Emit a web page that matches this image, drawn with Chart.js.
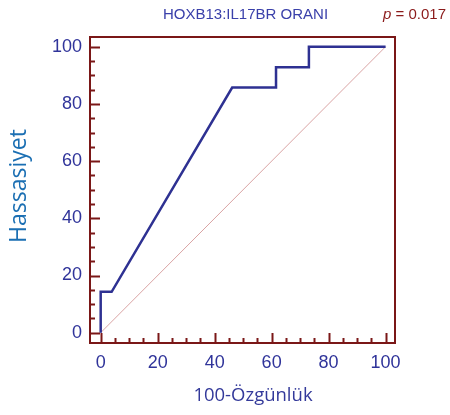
<!DOCTYPE html>
<html>
<head>
<meta charset="utf-8">
<script src="https://cdn.jsdelivr.net/npm/chart.js@4"></script>
<style>
  body { margin: 0; background: #fff; }
  #wrap { width: 450px; height: 415px; position: relative; }
</style>
</head>
<body>
<div id="wrap"><canvas id="roc"></canvas></div>
<script>
// ROC egrisi verisi (100-Ozgunluk, Hassasiyet)
const fpr = [0, 0, 3.85, 46.15, 61.54, 61.54, 73.08, 73.08, 100];
const tpr = [0, 14.29, 14.29, 85.71, 85.71, 92.86, 92.86, 100, 100];
// referans kosegen
const diagX = [0, 100];
const diagY = [0, 100];
const tickVals = [0, 20, 40, 60, 80, 100];
const titleText = 'HOXB13:IL17BR ORANI';
const pText = '= 0.017';

const AXIS = '#7a1717';
const LABEL = '#30349a';

const toPoints = (xs, ys) => xs.map((x, i) => ({ x: x, y: ys[i] }));

// cerceve, ic tikler ve basliklar
const framePlugin = {
    id: 'frame',
    afterDraw(chart) {
        const ctx = chart.ctx;
        const a = chart.chartArea;
        const xs = chart.scales.x, ys = chart.scales.y;
        ctx.save();
        ctx.strokeStyle = AXIS;
        ctx.lineWidth = 2;
        ctx.strokeRect(a.left, a.top, a.right - a.left, a.bottom - a.top);

        for (let v = 0; v <= 100; v += 5) {
            const len = v % 20 === 0 ? 10 : 5;
            const px = Math.round(xs.getPixelForValue(v)) + 0.5;
            ctx.beginPath();
            ctx.moveTo(px, a.bottom);
            ctx.lineTo(px, a.bottom - len);
            ctx.stroke();
            const py = Math.round(ys.getPixelForValue(v)) + 0.5;
            ctx.beginPath();
            ctx.moveTo(a.left, py);
            ctx.lineTo(a.left + len, py);
            ctx.stroke();
        }

        // baslik
        ctx.textBaseline = 'middle';
        ctx.textAlign = 'left';
        ctx.fillStyle = '#3a40aa';
        ctx.font = '15px "Liberation Sans", Arial, sans-serif';
        ctx.fillText(titleText, 163, 15);
        ctx.fillStyle = '#8b1a1a';
        ctx.font = 'italic 15px "Liberation Sans", Arial, sans-serif';
        ctx.fillText('p', 383, 15);
        const pw = ctx.measureText('p ').width;
        ctx.font = '15px "Liberation Sans", Arial, sans-serif';
        ctx.fillText(pText, 383 + pw, 15);

        // eksen basliklari
        ctx.textAlign = 'center';
        ctx.fillStyle = '#33399a';
        ctx.font = '18.5px "Open Sans", sans-serif';
        ctx.fillText('100-Özgünlük', 253, 396);

        ctx.translate(19, 186);
        ctx.rotate(-Math.PI / 2);
        ctx.fillStyle = '#1b6fb3';
        ctx.font = '23px "Open Sans", sans-serif';
        ctx.fillText('Hassasiyet', 0, 0);
        ctx.restore();
    }
};

new Chart(document.getElementById('roc'), {
    type: 'scatter',
    data: {
        datasets: [
            {
                data: toPoints(fpr, tpr),
                showLine: true,
                borderColor: '#2e3192',
                borderWidth: 2.5,
                pointRadius: 0,
                tension: 0
            },
            {
                data: toPoints(diagX, diagY),
                showLine: true,
                borderColor: '#d9a3a3',
                borderWidth: 1,
                pointRadius: 0
            }
        ]
    },
    options: {
        responsive: true,
        maintainAspectRatio: false,
        animation: false,
        layout: { padding: { left: 0, top: 37, right: 55, bottom: 0 } },
        plugins: {
            legend: { display: false },
            tooltip: { enabled: false }
        },
        scales: {
            x: {
                type: 'linear',
                min: -3.75,
                max: 103.3,
                afterBuildTicks: s => { s.ticks = tickVals.map(v => ({ value: v })); },
                afterFit: s => { s.height = 72; },
                grid: { display: false, drawTicks: false },
                border: { display: false },
                ticks: {
                    padding: 9,
                    color: LABEL,
                    font: { family: '"Liberation Sans", Arial', size: 18 },
                    maxRotation: 0
                }
            },
            y: {
                type: 'linear',
                min: -3.6,
                max: 103.4,
                afterBuildTicks: s => { s.ticks = tickVals.map(v => ({ value: v })); },
                afterFit: s => { s.width = 90; },
                grid: { display: false, drawTicks: false },
                border: { display: false },
                ticks: {
                    padding: 8,
                    color: LABEL,
                    font: { family: '"Liberation Sans", Arial', size: 18 }
                }
            }
        }
    },
    plugins: [framePlugin]
});
</script>
</body>
</html>
